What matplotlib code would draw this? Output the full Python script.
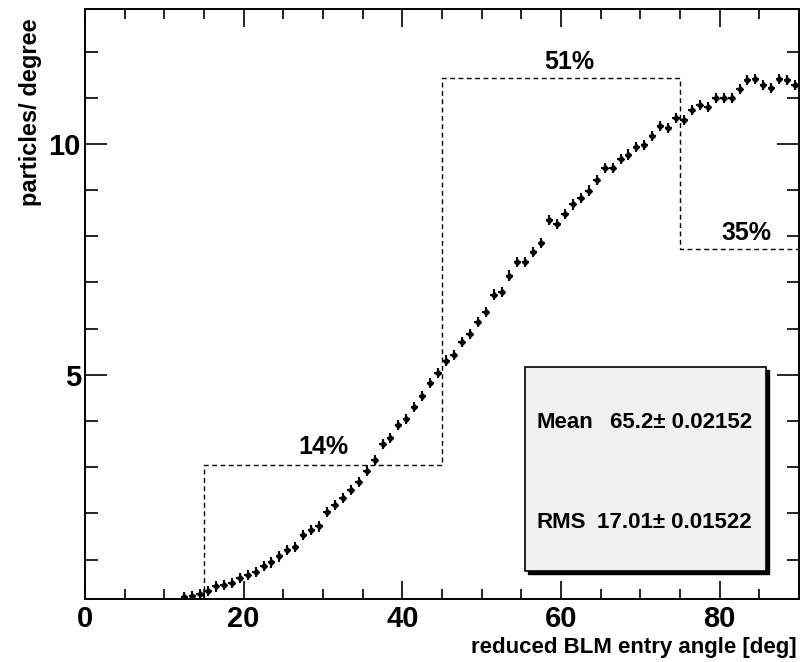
import matplotlib
matplotlib.use("Agg")
import matplotlib.pyplot as plt
from matplotlib.ticker import MultipleLocator, FixedLocator
from matplotlib.patches import Rectangle

plt.rcParams['font.family'] = ['Liberation Sans', 'DejaVu Sans']
plt.rcParams['font.weight'] = 'bold'

# ---- data ----
bin_centers = [12.5 + i for i in range(78)]
counts = [0.19, 0.22, 0.26, 0.32, 0.42, 0.46, 0.49, 0.61, 0.67, 0.73,
          0.87, 0.94, 1.07, 1.21, 1.28, 1.54, 1.65, 1.72, 2.03, 2.19,
          2.34, 2.51, 2.68, 2.93, 3.16, 3.50, 3.63, 3.91, 4.04, 4.31,
          4.55, 4.83, 5.04, 5.31, 5.43, 5.72, 5.89, 6.15, 6.36, 6.74,
          6.80, 7.15, 7.45, 7.45, 7.66, 7.86, 8.35, 8.27, 8.48, 8.69,
          8.82, 8.99, 9.21, 9.47, 9.47, 9.67, 9.77, 9.94, 9.98, 10.18,
          10.39, 10.35, 10.56, 10.52, 10.73, 10.84, 10.80, 11.00, 11.00, 11.00,
          11.18, 11.38, 11.41, 11.28, 11.21, 11.41, 11.39, 11.28]
count_err = 0.11

# dashed region-average step curve
region_edges = [15, 45, 75, 90]
region_levels = [3.05, 11.42, 7.72]
region_labels = ["14%", "51%", "35%"]
region_label_pos = [(30.0, 3.45), (61.0, 11.78), (83.4, 8.07)]

stat_names = ["Mean", "RMS"]
stat_values = ["65.2", "17.01"]
stat_errors = ["0.02152", "0.01522"]

xlabel = "reduced BLM entry angle [deg]"
ylabel = "particles/ degree"

W, H = 807, 662
fig = plt.figure(figsize=(W / 100, H / 100), dpi=100)
ax = fig.add_axes([85 / W, 1 - 598.5 / H, (799 - 85) / W, (598.5 - 9) / H])

ax.set_xlim(0, 90)
ax.set_ylim(0.16, 12.92)

# data points with error bars
ax.errorbar(bin_centers, counts, xerr=0.45, yerr=count_err, fmt='D', color='black',
            markersize=3.0, elinewidth=1.5, capsize=0, zorder=3)

# dashed step
xs = [region_edges[0]]
ys = [0.16]
for i, lvl in enumerate(region_levels):
    xs += [region_edges[i], region_edges[i + 1]]
    ys += [lvl, lvl]
ax.plot(xs, ys, color='black', lw=1.0, linestyle=(0, (3.5, 2.5)), zorder=2)

for lab, (lx, ly) in zip(region_labels, region_label_pos):
    ax.text(lx, ly, lab, ha='center', va='center', fontsize=18, fontweight='bold')

# axes styling
for s in ax.spines.values():
    s.set_linewidth(1.4)
ax.xaxis.set_major_locator(MultipleLocator(20))
ax.xaxis.set_minor_locator(MultipleLocator(5))
ax.yaxis.set_major_locator(FixedLocator([5, 10]))
ax.yaxis.set_minor_locator(MultipleLocator(1))
ax.tick_params(axis='x', which='major', direction='in', length=13, width=1.2,
               top=True, bottom=True, labelsize=21, pad=5)
ax.tick_params(axis='x', which='minor', direction='in', length=7.2, width=1.2,
               top=True, bottom=True)
ax.tick_params(axis='y', which='major', direction='in', length=16, width=1.2,
               left=True, right=True, labelsize=21, pad=3)
ax.tick_params(axis='y', which='minor', direction='in', length=9, width=1.2,
               left=True, right=True)
for lbl in ax.get_xticklabels() + ax.get_yticklabels():
    lbl.set_fontweight('bold')

fig.text(797 / W, 1 - 653 / H, xlabel, ha='right', va='baseline', fontsize=16,
         fontweight='bold')
fig.text(31 / W, 1 - 112 / H, ylabel, ha='center', va='center', rotation=90,
         fontsize=17, fontweight='bold')

# stats box with shadow
bx0, bx1 = 525 / W, 766 / W
by0, by1 = 1 - 571 / H, 1 - 367 / H
shadow = Rectangle((bx0 + 3 / W, by0 - 3 / H), bx1 - bx0, by1 - by0,
                   transform=fig.transFigure, facecolor='black', edgecolor='black',
                   zorder=4)
box = Rectangle((bx0, by0), bx1 - bx0, by1 - by0, transform=fig.transFigure,
                facecolor='#f0f0f0', edgecolor='black', lw=1.2, zorder=5)
fig.add_artist(shadow)
fig.add_artist(box)
stat_y = [1 - 422 / H, 1 - 522 / H]
for name, val, err, yy in zip(stat_names, stat_values, stat_errors, stat_y):
    fig.text(537 / W, yy, name, ha='left', va='center', fontsize=16,
             fontweight='bold', zorder=6)
    fig.text(752 / W, yy, f"{val}\u00b1 {err}", ha='right', va='center', fontsize=16,
             fontweight='bold', zorder=6)

fig.savefig("out.png", dpi=100)
